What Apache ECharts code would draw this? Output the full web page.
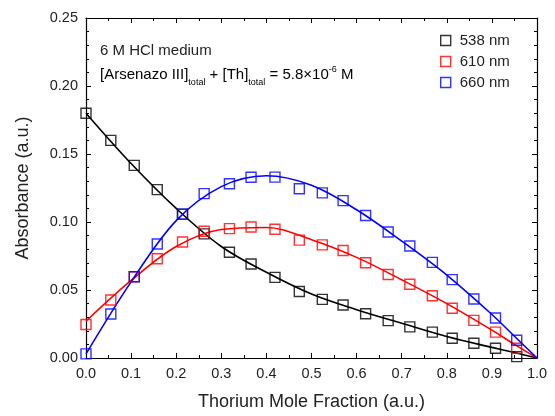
<!DOCTYPE html>
<html><head><meta charset="utf-8">
<script src="https://cdn.jsdelivr.net/npm/echarts@6/dist/echarts.min.js"></script>
<style>html,body{margin:0;padding:0;background:#fff}#c{width:555px;height:416px}</style>
</head><body><div id="c"></div>
<script>
var xPts = [0, 0.055, 0.107, 0.158, 0.214, 0.262, 0.318, 0.366, 0.419, 0.473, 0.524, 0.57, 0.62, 0.67, 0.718, 0.768, 0.812, 0.86, 0.908, 0.955];
var abs538 = [0.180,0.160,0.1416,0.1238,0.1058,0.0913,0.0778,0.0691,0.0593,0.0489,0.0431,0.039,0.0325,0.0275,0.0229,0.019,0.0145,0.0108,0.0072,0.001];
var abs610 = [0.0246,0.0426,0.0597,0.073,0.0853,0.0932,0.0951,0.0963,0.0947,0.0867,0.0832,0.079,0.07,0.0614,0.0542,0.0458,0.0366,0.0277,0.019,0.0072];
var abs660 = [0.003,0.0323,0.0597,0.0838,0.1058,0.1209,0.1281,0.1329,0.133,0.1245,0.1214,0.1157,0.1048,0.0927,0.0824,0.0703,0.0576,0.0434,0.0294,0.013];
var fitX = [0,0.1,0.2,0.3,0.4,0.5,0.6,0.7,0.8,0.9,0.95,1.0];
var fit538 = [0.180,0.143,0.110,0.082,0.063,0.047,0.0355,0.0255,0.0158,0.0078,0.004,0];
var fit610 = [0.027,0.057,0.082,0.0945,0.096,0.087,0.074,0.0575,0.040,0.0205,0.010,0];
var fit660 = [0.003,0.056,0.101,0.126,0.134,0.127,0.109,0.086,0.061,0.032,0.016,0];
var names = ['538 nm','610 nm','660 nm'];
var colors = ['#000000','#ff0000','#0000ff'];

function pairs(xs, ys){ return xs.map(function(x,i){return [x, ys[i]];}); }
var ptsData = [abs538, abs610, abs660];
var fitData = [fit538, fit610, fit660];
var FONT = 'Liberation Sans, Arial, sans-serif';
var TXT = '#222';
var series = [];
for (var k=0;k<3;k++){
  series.push({type:'line', name:'fit'+k, data: pairs(fitX, fitData[k]), smooth:0.35, showSymbol:false, symbol:'none',
    lineStyle:{color:colors[k], width:1.6}, z:2, silent:true});
}
for (var k=0;k<3;k++){
  series.push({type:'scatter', name:names[k], data: pairs(xPts, ptsData[k]), symbol:'rect', symbolSize:10,
    itemStyle:{color:'rgba(255,255,255,0)', borderColor:colors[k], borderWidth:1.4}, z:3});
}
function axisCommon(extra){
  var base = {
    axisLine:{show:true, onZero:false, lineStyle:{color:'#000', width:1.2}},
    axisTick:{show:true, inside:true, length:5, lineStyle:{color:'#000', width:1}},
    splitLine:{show:false}, minorSplitLine:{show:false}
  };
  for (var key in extra) base[key]=extra[key];
  return base;
}
var option = {
  animation:false,
  backgroundColor:'#fff',
  grid:{left:86, right:18, top:18, bottom:52},
  legend:{
    data: names.map(function(n,i){return {name:n, icon:'rect', itemStyle:{color:'#fff', borderColor:colors[i], borderWidth:1.4}};}),
    orient:'vertical', left:435, top:28, itemWidth:10, itemHeight:10, itemGap:6,
    textStyle:{fontFamily:FONT, fontSize:15, color:TXT, padding:[0,0,0,4]}
  },
  xAxis:[
    axisCommon({type:'value', position:'bottom', min:0, max:1, interval:0.1,
      minorTick:{show:true, splitNumber:2, length:3, lineStyle:{color:'#000'}},
      axisLabel:{fontFamily:FONT, fontSize:14.5, color:TXT, margin:8, formatter:function(v){return v.toFixed(1);}},
      name:'Thorium Mole Fraction (a.u.)', nameLocation:'middle', nameGap:35,
      nameTextStyle:{fontFamily:FONT, fontSize:18, color:TXT}}),
    axisCommon({type:'value', position:'top', min:0, max:1, interval:0.1,
      minorTick:{show:true, splitNumber:2, length:3, lineStyle:{color:'#000'}},
      axisLabel:{show:false}})
  ],
  yAxis:[
    axisCommon({type:'value', position:'left', min:0, max:0.25, interval:0.05,
      minorTick:{show:true, splitNumber:5, length:3, lineStyle:{color:'#000'}},
      axisLabel:{fontFamily:FONT, fontSize:14.5, color:TXT, margin:8, formatter:function(v){return v.toFixed(2);}},
      name:'Absorbance (a.u.)', nameLocation:'middle', nameGap:54,
      nameTextStyle:{fontFamily:FONT, fontSize:18, color:TXT}}),
    axisCommon({type:'value', position:'right', min:0, max:0.25, interval:0.05,
      minorTick:{show:true, splitNumber:5, length:3, lineStyle:{color:'#000'}},
      axisLabel:{show:false}})
  ],
  graphic:[
    {type:'text', left:100, top:43, style:{text:'6 M HCl medium', font:'15px '+FONT, fill:TXT}},
    {type:'text', left:100, top:65, style:{
      text:'{n|[Arsenazo III]}{s|total}{n| + [Th]}{s|total}{n| = 5.8×10}{p|-6}{n| M}',
      rich:{
        n:{fontFamily:FONT, fontSize:15, color:TXT, lineHeight:24, verticalAlign:'middle'},
        s:{fontFamily:FONT, fontSize:9, color:TXT, verticalAlign:'bottom'},
        p:{fontFamily:FONT, fontSize:9, color:TXT, verticalAlign:'top', padding:[2,0,0,0]}
      }}}
  ],
  series: series
};
var chart = echarts.init(document.getElementById('c'), null, {renderer:'canvas'});
chart.setOption(option);
</script></body></html>
